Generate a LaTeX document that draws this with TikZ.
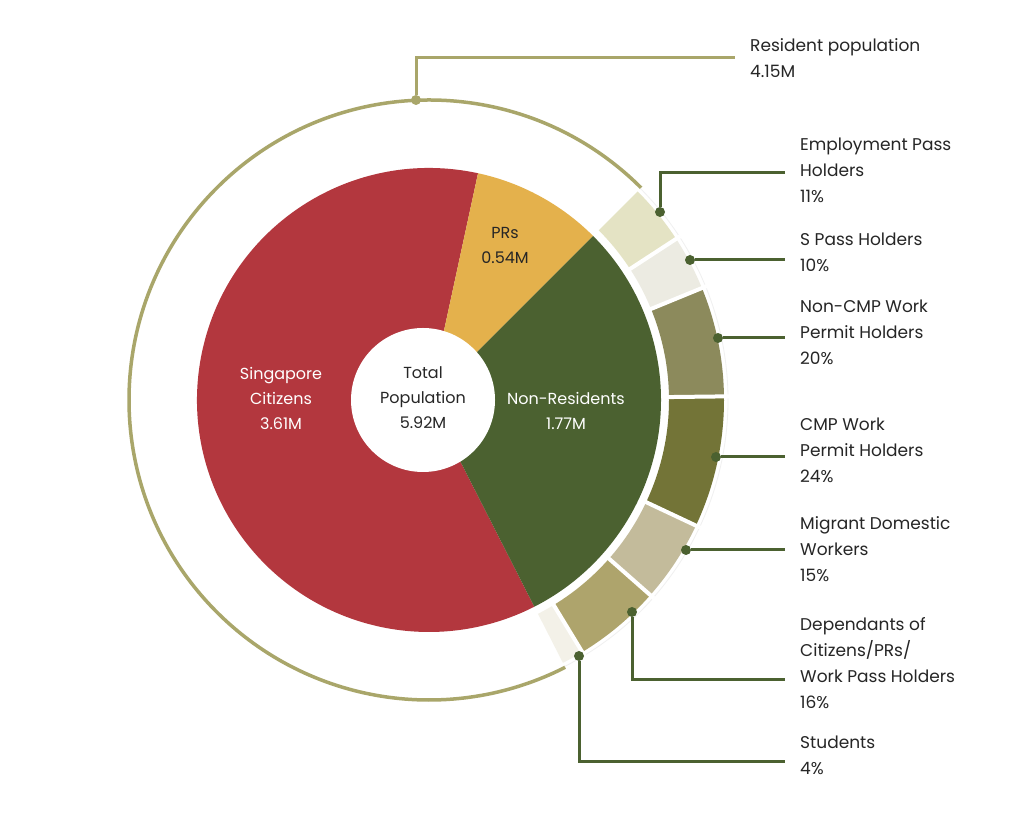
\documentclass[tikz,border=0pt]{standalone}
\usepackage{fontspec}
\setmainfont{Poppins}
\begin{document}
\begin{tikzpicture}[x=1pt,y=1pt,
  lbl/.style={anchor=north west,align=left,inner sep=0pt,font=\fontsize{17}{26}\selectfont,text=black!85},
  dot/.style={circle,fill=dkg,inner sep=0pt,minimum size=10pt},
  conn/.style={draw=dkg,line width=3pt},
  inlbl/.style={align=center,font=\fontsize{16}{25}\selectfont}]
\definecolor{dkg}{HTML}{4B6130}
\definecolor{olv}{HTML}{A9A66A}
\definecolor{cred}{HTML}{B3373E}
\definecolor{cyel}{HTML}{E4B14C}
\definecolor{cgrn}{HTML}{4B6130}
\useasboundingbox (0,0) rectangle (1024,821);
\fill[white] (0,0) rectangle (1024,821);
\coordinate (C) at (429,421);
\begin{scope}[shift={(C)}]
 % resident arc
 \draw[olv,line width=3.5pt] (45:300) arc (45:297:300);
 \fill[cred] (0,0) -- (77.8:232) arc (77.8:297:232) -- cycle;
 \fill[cyel] (0,0) -- (45:232) arc (45:77.8:232) -- cycle;
 \fill[cgrn] (0,0) -- (-63:232) arc (-63:45:232) -- cycle;
 \draw[black!6,line width=0.8pt] (45:299) arc (45:-63:299);
 \foreach \a/\b/\c in {45/33.1/E4E3C4, 33.1/22.3/ECEBE2, 22.3/0.7/8C8A5C, 0.7/-25.2/737437, -25.2/-41.4/C3BB9B, -41.4/-58.7/AEA46C, -58.7/-63/F3F1E8}{
   \definecolor{tmp}{HTML}{\c}
   \fill[tmp] (\a:240) arc (\a:\b:240) -- (\b:295) arc (\b:\a:295) -- cycle;
 }
 \foreach \a in {33.1,22.3,0.7,-25.2,-41.4,-58.7}{
   \draw[white,line width=4pt] (\a:236) -- (\a:300);
 }
 \fill[white] (-6,0) circle (72);
\end{scope}
% inner labels
\node[inlbl,text=black!85] (tot) at (423,423) {Total\\Population\\5.92M};
\node[inlbl,text=white] (sc) at (281,423) {Singapore\\Citizens\\3.61M};
\node[inlbl,text=black!85] (pr) at (505,576) {PRs\\0.54M};
\node[inlbl,text=white] (nr) at (566,410) {Non-Residents\\1.77M};
% resident connector
\node[circle,fill=olv,inner sep=0pt,minimum size=10pt] (dres) at (416,721) {};
\coordinate (kres) at (416,763);
\coordinate (eres) at (735,763);
\draw[olv,line width=3pt] (dres) -- (kres) -- (eres);
\node[lbl] (tres) at (750,783) {Resident population\\4.15M};
% sub connectors
\node[dot] (d1) at (660,609) {};
\coordinate (k1) at (660,648); \coordinate (e1) at (785,648);
\draw[conn] (d1) -- (k1) -- (e1);
\node[lbl] (t1) at (800,683) {Employment Pass\\Holders\\11\%};
\node[dot] (d2) at (690,561) {};
\coordinate (e2) at (785,561);
\draw[conn] (d2) -- (e2);
\node[lbl] (t2) at (800,588) {S Pass Holders\\10\%};
\node[dot] (d3) at (718,483) {};
\coordinate (e3) at (785,483);
\draw[conn] (d3) -- (e3);
\node[lbl] (t3) at (800,521) {Non-CMP Work\\Permit Holders\\20\%};
\node[dot] (d4) at (716,364) {};
\coordinate (e4) at (785,364);
\draw[conn] (d4) -- (e4);
\node[lbl] (t4) at (800,403) {CMP Work\\Permit Holders\\24\%};
\node[dot] (d5) at (686,271) {};
\coordinate (e5) at (785,271);
\draw[conn] (d5) -- (e5);
\node[lbl] (t5) at (800,305) {Migrant Domestic\\Workers\\15\%};
\node[dot] (d6) at (632,209) {};
\coordinate (k6) at (632,141); \coordinate (e6) at (785,141);
\draw[conn] (d6) -- (k6) -- (e6);
\node[lbl] (t6) at (800,204) {Dependants of\\Citizens/PRs/\\Work Pass Holders\\16\%};
\node[dot] (d7) at (579,165) {};
\coordinate (k7) at (579,59); \coordinate (e7) at (785,59);
\draw[conn] (d7) -- (k7) -- (e7);
\node[lbl] (t7) at (800,85) {Students\\4\%};
\end{tikzpicture}
\end{document}
